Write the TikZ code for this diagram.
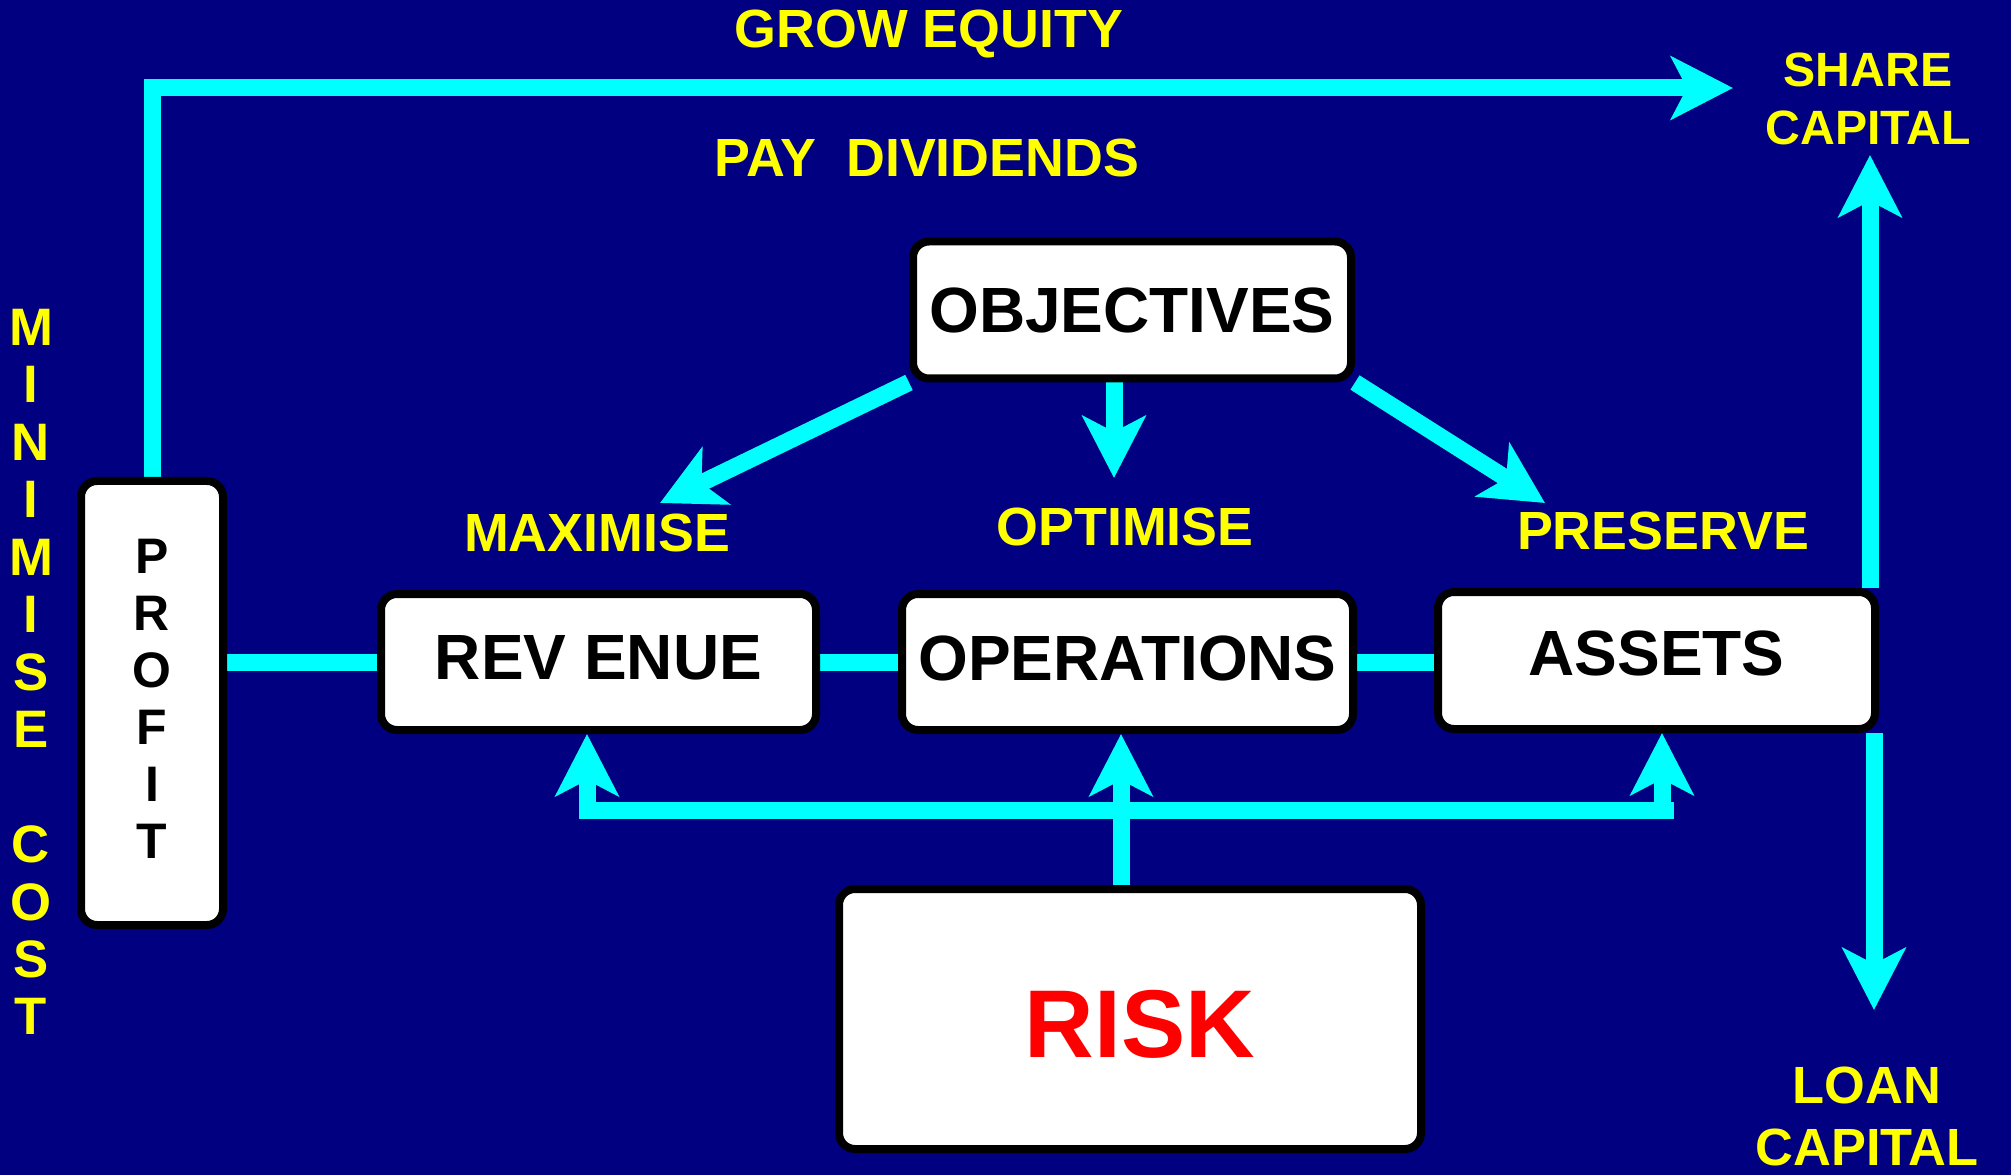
\documentclass[tikz,border=0pt]{standalone}
\usepackage{fontspec}
\setmainfont{Liberation Sans}
\usepackage{tikz}
\usetikzlibrary{arrows.meta,backgrounds}

\definecolor{slidebg}{RGB}{0,0,128}
\definecolor{flowcyan}{RGB}{0,255,255}
\definecolor{labelyellow}{RGB}{255,255,0}

\begin{document}
\begin{tikzpicture}
            \tikzset{BoxStyle/.style={draw=black,line width=0.08cm,fill=white,rounded corners=0.16cm,inner sep=0pt,align=center,font=\bfseries\fontsize{18.2}{20}\selectfont}};
            \tikzset{LabelStyle/.style={text=labelyellow,inner sep=0pt,align=center,font=\bfseries\fontsize{15.3}{17}\selectfont}};
            \tikzset{EdgeStyle/.style={flowcyan,line width=0.17cm}};
            \tikzset{ArrowStyle/.style={EdgeStyle,-{Stealth[length=0.62cm,width=0.63cm,inset=0.16cm]}}};

            \useasboundingbox (0,0) rectangle (20.11,-11.75);
            \begin{scope}[on background layer]
              \fill[slidebg] (0,0) rectangle (20.11,-11.75);
            \end{scope}

            \node[BoxStyle,minimum width=4.38cm,minimum height=1.37cm] (obj) at (11.32,-3.10) {OBJECTIVES};
            \node[BoxStyle,minimum width=4.35cm,minimum height=1.36cm,text depth=0.09cm] (rev) at (5.985,-6.62) {REV ENUE};
            \node[BoxStyle,minimum width=4.51cm,minimum height=1.36cm,text depth=0.08cm] (ops) at (11.275,-6.62) {OPERATIONS};
            \node[BoxStyle,minimum width=4.37cm,minimum height=1.37cm,text depth=0.14cm] (ast) at (16.565,-6.605) {ASSETS};
            \node[BoxStyle,minimum width=1.42cm,minimum height=4.44cm,text depth=0.08cm,font=\bfseries\fontsize{14.2}{16.2}\selectfont] (prof) at (1.52,-7.03) {P\\R\\O\\F\\I\\T};
            \node[BoxStyle,minimum width=5.82cm,minimum height=2.60cm,text height=0.77cm,text=red,font=\bfseries\fontsize{27.4}{30}\selectfont] (risk) at (11.30,-10.19) {\hspace*{0.2cm}RISK};

            \node[LabelStyle] (grow) at (9.29,-0.34) {GROW EQUITY};
            \node[LabelStyle] (pay) at (9.27,-1.58) {PAY~~DIVIDENDS};
            \node[LabelStyle] (maxl) at (5.97,-5.33) {MAXIMISE};
            \node[LabelStyle] (optl) at (11.25,-5.27) {OPTIMISE};
            \node[LabelStyle] (presl) at (16.63,-5.31) {PRESERVE};
            \node[LabelStyle,font=\bfseries\fontsize{13.7}{16.5}\selectfont] (share) at (18.68,-0.99) {SHARE\\CAPITAL};
            \node[LabelStyle,anchor=north,font=\bfseries\fontsize{14.9}{17.6}\selectfont] (loan) at (18.67,-10.66) {LOAN\\CAPITAL};
            \node[LabelStyle,font=\bfseries\fontsize{15}{16.35}\selectfont] (mincost) at (0.31,-6.72) {M\\I\\N\\I\\M\\I\\S\\E\\[0.575cm]C\\O\\S\\T};

            \coordinate (sharein) at (17.33,-0.88);
            \coordinate (maxtip) at (6.60,-5.03);
            \coordinate (opttip) at (11.14,-4.78);
            \coordinate (prestip) at (15.45,-5.03);
            \coordinate (sharetip) at (18.70,-1.55);
            \coordinate (loantip) at (18.74,-10.10);
            \coordinate (busl) at (5.87,-8.10);
            \coordinate (busr) at (16.62,-8.10);
            \coordinate (riskup) at (11.21,-8.80);

            \begin{scope}[on background layer]
              \draw[ArrowStyle] (prof.north) |- (sharein);
              \draw[ArrowStyle] (obj.south west) -- (maxtip);
              \draw[ArrowStyle] (opttip |- obj.south) -- (opttip);
              \draw[ArrowStyle] (obj.south east) -- (prestip);

              \draw[EdgeStyle] (prof.east |- rev.west) -- (rev.west);
              \draw[EdgeStyle] (rev.east) -- (ops.west);
              \draw[EdgeStyle] (ops.east) -- (ops.east -| ast.west);

              \draw[ArrowStyle] (sharetip |- ast.north) -- (sharetip);
              \draw[ArrowStyle] (loantip |- ast.south) -- (loantip);

              \draw[EdgeStyle] ([xshift=-0.08cm]busl) -- ([xshift=0.12cm]busr);
              \draw[ArrowStyle] (busl) -- (busl |- rev.south);
              \draw[ArrowStyle] (busr) -- (busr |- ast.south);
              \draw[ArrowStyle] (riskup |- risk.north) -- (riskup |- ops.south);
            \end{scope}
          \end{tikzpicture}
\end{document}
